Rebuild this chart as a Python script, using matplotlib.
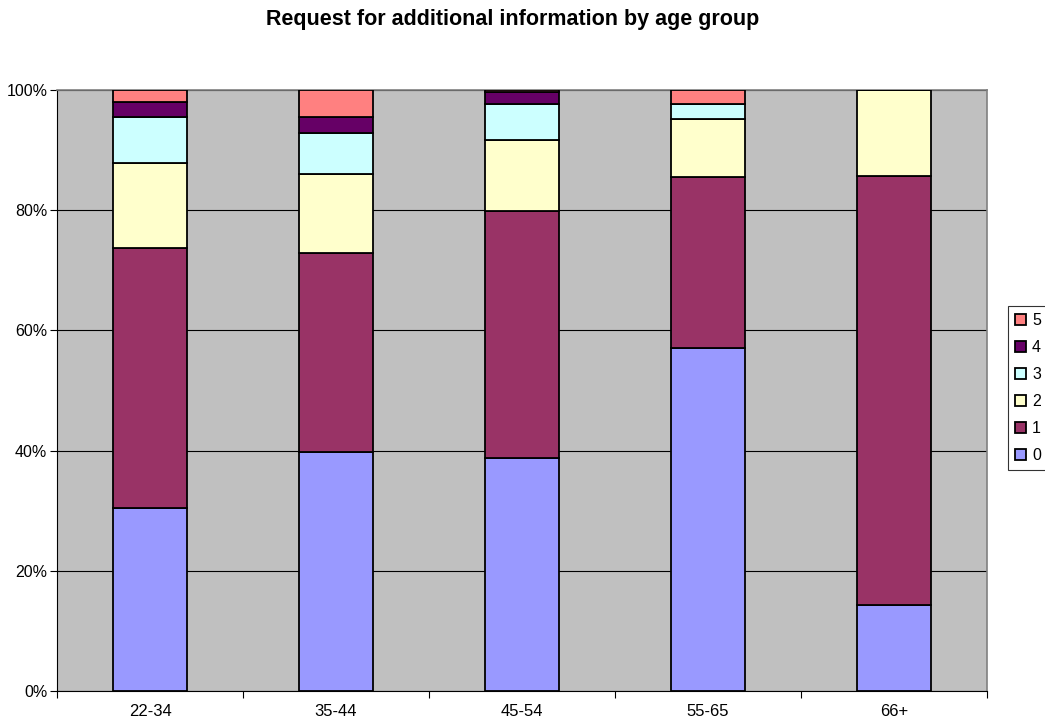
import matplotlib
matplotlib.use("Agg")
from matplotlib import pyplot as plt
from matplotlib.ticker import FixedLocator, PercentFormatter
import numpy as np

plt.rcParams['font.family'] = ['Liberation Sans', 'DejaVu Sans']

groups = ["22-34", "35-44", "45-54", "55-65", "66+"]
levels = ["0", "1", "2", "3", "4", "5"]

# segment shares (%)
share_0 = [30.4, 39.8, 38.8, 57.1, 14.3]
share_1 = [43.3, 33.1, 41.1, 28.4, 71.4]
share_2 = [14.2, 13.1, 11.8, 9.7, 14.3]
share_3 = [7.6, 6.8, 6.0, 2.5, 0.0]
share_4 = [2.5, 2.7, 1.9, 0.0, 0.0]
share_5 = [2.0, 4.5, 0.4, 2.3, 0.0]

colors = ["#9999FF", "#993366", "#FFFFCC", "#CCFFFF", "#660066", "#FF8080"]

fig = plt.figure(figsize=(10.45, 7.23), dpi=100)
ax = fig.add_axes([57/1045, 1 - 691/723, 930/1045, 601/723])
ax.set_facecolor("#C0C0C0")

x = np.arange(len(groups))
series = [share_0, share_1, share_2, share_3, share_4, share_5]
tot = np.sum(np.array(series), axis=0)
bottom = np.zeros(len(groups))
handles = []
for vals, col, lab in zip(series, colors, levels):
    v = np.array(vals) / tot * 100
    b = ax.bar(x, v, 0.4, bottom=bottom, color=col, edgecolor="black",
               linewidth=1.3, label=lab, zorder=3)
    handles.append(b)
    bottom += v

ax.set_xlim(-0.5, len(groups) - 0.5)
ax.set_ylim(0, 100)
ax.set_yticks(np.arange(0, 101, 20))
ax.yaxis.set_major_formatter(PercentFormatter(decimals=0))
ax.grid(axis="y", color="black", linewidth=0.8, zorder=1)
ax.set_axisbelow(True)

ax.set_xticks(x)
ax.set_xticklabels(groups)
ax.xaxis.set_minor_locator(FixedLocator(np.arange(-0.5, len(groups), 1)))
ax.tick_params(axis="x", which="major", length=0, pad=9, labelsize=12)
ax.tick_params(axis="x", which="minor", length=5, width=0.8)
ax.tick_params(axis="y", length=5, width=0.8, labelsize=11.5, pad=2)

for side in ["top", "right"]:
    ax.spines[side].set_color("#808080")
    ax.spines[side].set_linewidth(1.2)
for side in ["left", "bottom"]:
    ax.spines[side].set_color("black")
    ax.spines[side].set_linewidth(0.8)

fig.suptitle("Request for additional information by age group", fontsize=15.5,
             fontweight="bold", x=513/1045, y=1 - 20/723, va="center")

leg = ax.legend(handles[::-1], levels[::-1], loc="center left",
                bbox_to_anchor=(1008/1045, 1 - 388/723), bbox_transform=fig.transFigure,
                frameon=True, fancybox=False, edgecolor="black", fontsize=11.5,
                handlelength=0.65, handleheight=0.65, handletextpad=0.4,
                labelspacing=0.75, borderpad=0.45, borderaxespad=0)
leg.get_frame().set_linewidth(0.8)

fig.savefig("out.png", dpi=100)
